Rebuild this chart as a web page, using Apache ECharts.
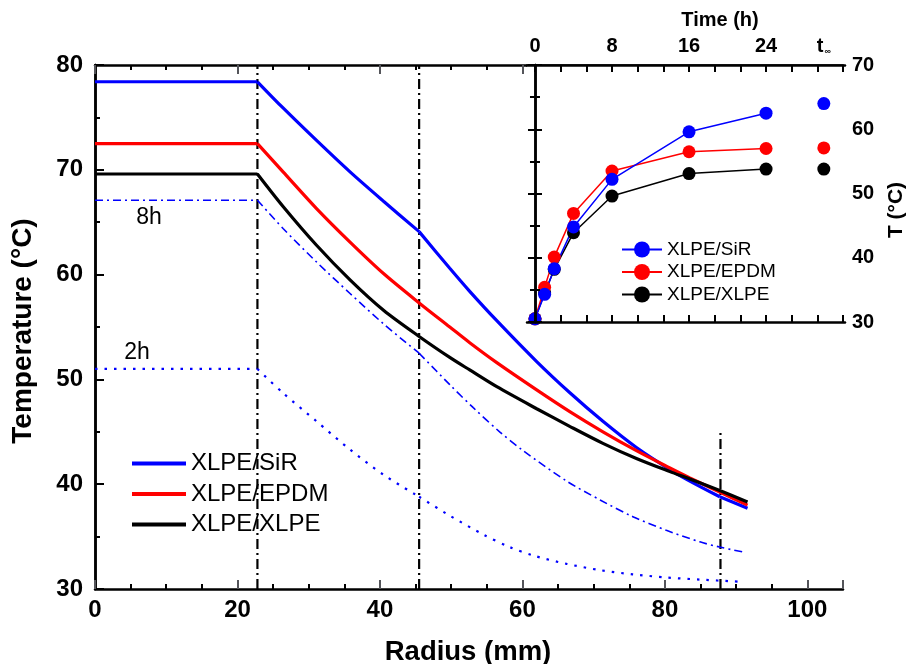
<!DOCTYPE html>
<html>
<head>
<meta charset="utf-8">
<script src="https://cdn.jsdelivr.net/npm/echarts@6/dist/echarts.min.js"></script>
<style>html,body{margin:0;padding:0;background:#fff}#c{width:909px;height:664px}</style>
</head>
<body>
<div id="c"></div>
<script>
// ---------- main plot data (radius in mm, temperature in °C) ----------
const radiusMain = [0, 22.8, 26.4, 31.1, 35.8, 40.5, 45.5, 49.8, 52.6, 56.4, 62.0, 66.7, 71.3, 76.0, 80.7, 83.5, 87.7, 91.6];
const tempSiR    = [78.4, 78.4, 75.9, 72.8, 69.8, 67.0, 64.1, 60.6, 58.4, 55.6, 51.7, 48.7, 46.0, 43.5, 41.4, 40.3, 38.8, 37.7];
const tempEPDM   = [72.5, 72.5, 69.8, 66.3, 63.1, 60.1, 57.3, 55.0, 53.5, 51.6, 49.0, 46.9, 45.0, 43.2, 41.55, 40.6, 39.25, 38.0];
const tempXLPE   = [69.6, 69.6, 66.5, 62.8, 59.5, 56.6, 54.1, 52.1, 50.9, 49.3, 47.2, 45.5, 43.9, 42.45, 41.2, 40.5, 39.4, 38.3];

const radius8h = [0, 22.8, 26.4, 31.1, 35.8, 40.5, 45.5, 49.8, 53.1, 56.8, 60.1, 66.2, 70.9, 75.5, 80.2, 84.9, 87.7, 91.2];
const temp8h   = [67.1, 67.1, 64.4, 61.2, 58.2, 55.3, 52.5, 49.5, 47.3, 45.0, 43.2, 40.3, 38.5, 36.9, 35.6, 34.5, 34.0, 33.5];

const radius2h = [0, 22.8, 26.4, 31.1, 35.8, 40.5, 45.5, 49.8, 54.5, 58.2, 61.5, 66.2, 70.9, 75.5, 80.2, 84.9, 90.5];
const temp2h   = [51.0, 51.0, 48.7, 46.0, 43.3, 40.9, 38.8, 37.0, 35.2, 34.0, 33.2, 32.4, 31.8, 31.4, 31.1, 30.9, 30.7];

const interfaceRadii = [22.8, 45.5, 87.8];
const interfaceTopT  = [80, 80, 45.1];

const seriesNames = ['XLPE/SiR', 'XLPE/EPDM', 'XLPE/XLPE'];

// ---------- inset data (time in h, temperature in °C) ----------
const insetHours   = [0, 1, 2, 4, 8, 16, 24];
const insetSiR     = [30.5, 34.3, 38.3, 44.8, 52.2, 59.6, 62.5];
const insetEPDM    = [30.5, 35.4, 40.1, 46.9, 53.5, 56.5, 57.0];
const insetXLPE    = [30.5, 34.5, 38.2, 43.9, 49.6, 53.1, 53.8];
const tInfPosition = 30;
const tInfSiR = 64.0, tInfEPDM = 57.1, tInfXLPE = 53.8;
const insetTickLabels = [0, 8, 16, 24, tInfPosition];

const zip = (xs, ys) => xs.map((x, i) => [x, ys[i]]);
// split a curve at given radii (interfaces) into pieces
const pieces = (xs, ys, breaks) => {
  const pts = zip(xs, ys);
  const out = [];
  let cur = [];
  pts.forEach(p => {
    cur.push(p);
    if (breaks.some(b => Math.abs(b - p[0]) < 0.35) && cur.length > 1) { out.push(cur); cur = [p]; }
  });
  if (cur.length > 1) out.push(cur);
  return out;
};
const FONT = "'Liberation Sans', Arial, sans-serif";
const BLUE = '#0000ff', RED = '#ff0000', BLACK = '#000000';

const insetTickVals = [];
for (let k = 0; k <= 12; k++) insetTickVals.push(k * 8 / 3);

const chart = echarts.init(document.getElementById('c'));

const mainLine = { lineStyle: { color: BLACK, width: 2.5 } };
const noLabel = { show: false };
const noSplit = { show: false };

const option = {
  animation: false,
  backgroundColor: '#fff',
  grid: [
    { left: 95, top: 65, width: 748, height: 524, show: false },
    { left: 527, top: 65, width: 318, height: 257, show: true, backgroundColor: '#fff', borderWidth: 0, z: 5 }
  ],
  xAxis: [
    { type: 'value', gridIndex: 0, position: 'bottom', min: 0, max: 105, interval: 5,
      axisLine: mainLine, splitLine: noSplit,
      axisTick: { inside: true, length: 5, lineStyle: { width: 2 } },
      axisLabel: { margin: 9, color: BLACK, fontSize: 24, fontWeight: 'bold', fontFamily: FONT,
        formatter: v => (Math.abs(v % 20) < 1e-6 ? String(v) : '') } },
    { type: 'value', gridIndex: 0, position: 'bottom', min: 0, max: 105, interval: 20,
      axisLine: { show: false }, splitLine: noSplit,
      axisTick: { inside: true, length: 9, lineStyle: { width: 2 } }, axisLabel: noLabel },
    { type: 'value', gridIndex: 0, position: 'top', min: 0, max: 105, interval: 5,
      axisLine: mainLine, splitLine: noSplit,
      axisTick: { inside: true, length: 5, lineStyle: { width: 2 } }, axisLabel: noLabel },
    { type: 'value', gridIndex: 0, position: 'top', min: 0, max: 105, interval: 20,
      axisLine: { show: false }, splitLine: noSplit,
      axisTick: { inside: true, length: 9, lineStyle: { width: 2 } }, axisLabel: noLabel },
    { type: 'value', gridIndex: 1, position: 'top', min: -0.83, max: 32.2, z: 8,
      axisLine: mainLine, splitLine: noSplit,
      axisTick: { inside: true, length: 7, lineStyle: { width: 2 }, customValues: insetTickVals },
      axisLabel: { margin: 9, color: BLACK, fontSize: 20, fontWeight: 'bold', fontFamily: FONT,
        customValues: insetTickLabels,
        formatter: v => (Math.abs(v - tInfPosition) < 1e-6 ? '{t|t}{s|∞}' : String(Math.round(v))),
        rich: {
          t: { fontSize: 20, fontWeight: 'bold', fontFamily: FONT, color: BLACK },
          s: { fontSize: 9, fontFamily: FONT, color: BLACK, verticalAlign: 'bottom', padding: [9, 0, 0, 1] }
        } } },
    { type: 'value', gridIndex: 1, position: 'bottom', min: -0.83, max: 32.2, z: 8,
      axisLine: mainLine, splitLine: noSplit,
      axisTick: { inside: true, length: 7, lineStyle: { width: 2 }, customValues: insetTickVals },
      axisLabel: noLabel }
  ],
  yAxis: [
    { type: 'value', gridIndex: 0, position: 'left', min: 30, max: 80, interval: 10,
      axisLine: mainLine, splitLine: noSplit,
      axisTick: { inside: true, length: 9, lineStyle: { width: 2 } },
      minorTick: { show: true, splitNumber: 2, length: 5, lineStyle: { width: 2, color: BLACK } },
      axisLabel: { margin: 12, color: BLACK, fontSize: 24, fontWeight: 'bold', fontFamily: FONT } },
    { type: 'value', gridIndex: 0, position: 'right', min: 30, max: 80, interval: 10,
      axisLine: mainLine, splitLine: noSplit, axisTick: { show: false }, axisLabel: noLabel },
    { type: 'value', gridIndex: 1, position: 'right', min: 30, max: 70, interval: 10, z: 8,
      axisLine: mainLine, splitLine: noSplit,
      axisTick: { inside: true, length: 7, lineStyle: { width: 2 } },
      minorTick: { show: true, splitNumber: 2, length: 5, lineStyle: { width: 2, color: BLACK } },
      axisLabel: { margin: 7, color: BLACK, fontSize: 20, fontWeight: 'bold', fontFamily: FONT } },
    { type: 'value', gridIndex: 1, position: 'left', min: 30, max: 70, interval: 10, z: 8,
      axisLine: mainLine, splitLine: noSplit,
      axisTick: { inside: true, length: 7, lineStyle: { width: 2 } },
      minorTick: { show: true, splitNumber: 2, length: 5, lineStyle: { width: 2, color: BLACK } },
      axisLabel: noLabel }
  ],
  legend: [
    { data: seriesNames, orient: 'vertical', left: 127, top: 446.5, itemWidth: 54, itemHeight: 4, icon: 'rect',
      itemGap: 6.5, selectedMode: false, z: 10,
      textStyle: { fontSize: 24, color: BLACK, fontFamily: FONT, padding: [0, 0, 0, 0] } },
    { data: seriesNames.map(n => 'i:' + n), orient: 'vertical', left: 616, top: 235, itemWidth: 40, itemHeight: 20,
      itemGap: 3.5, selectedMode: false, z: 10, formatter: n => n.slice(2),
      textStyle: { fontSize: 19, color: BLACK, fontFamily: FONT, padding: [0, 0, 0, 0] } }
  ],
  series: []
};

// interface lines
interfaceRadii.forEach((r, i) => {
  option.series.push({ type: 'line', name: 'interface' + i, xAxisIndex: 0, yAxisIndex: 0, symbol: 'none', z: 2,
    data: [[r, 30], [r, interfaceTopT[i]]],
    lineStyle: { color: BLACK, width: 2.2, type: [10, 4, 2, 4] } });
});
const addCurve = (name, xs, ys, breaks, lineStyle) => {
  pieces(xs, ys, breaks).forEach(seg => {
    const flat = seg.length === 2 && seg[0][1] === seg[1][1];
    option.series.push({ type: 'line', name, xAxisIndex: 0, yAxisIndex: 0, symbol: 'none', z: 3,
      smooth: flat ? false : 0.3,
      data: seg, itemStyle: { color: lineStyle.color }, lineStyle });
  });
};
addCurve('8h', radius8h, temp8h, [22.8, 45.5], { color: BLUE, width: 1.6, type: [8, 4, 2, 4] });
addCurve('2h', radius2h, temp2h, [22.8, 45.5], { color: BLUE, width: 2.2, type: [2.5, 7] });
addCurve(seriesNames[0], radiusMain, tempSiR, [22.8, 45.5, 87.7], { color: BLUE, width: 3.2 });
addCurve(seriesNames[1], radiusMain, tempEPDM, [22.8], { color: RED, width: 3.2 });
addCurve(seriesNames[2], radiusMain, tempXLPE, [22.8], { color: BLACK, width: 3.2 });

// inset: draw black, red, blue (blue on top)
[[insetXLPE, BLACK, 2, tInfXLPE], [insetEPDM, RED, 1, tInfEPDM], [insetSiR, BLUE, 0, tInfSiR]].forEach(([t, c, idx, inf]) => {
  option.series.push({ type: 'line', name: 'i:' + seriesNames[idx], xAxisIndex: 4, yAxisIndex: 2, z: 6,
    symbol: 'circle', symbolSize: 13, showSymbol: true, clip: false,
    data: zip(insetHours, t), itemStyle: { color: c, opacity: 1 }, lineStyle: { color: c, width: 1.5 } });
  option.series.push({ type: 'scatter', name: 'inf' + idx, xAxisIndex: 4, yAxisIndex: 2, z: 6,
    symbol: 'circle', symbolSize: 13, data: [[tInfPosition, inf]], itemStyle: { color: c, opacity: 1 } });
});

option.graphic = [
  { type: 'text', x: 23, y: 331, rotation: Math.PI / 2, z: 20,
    style: { text: 'Temperature (°C)', fontSize: 28, fontWeight: 'bold', fontFamily: FONT, fill: BLACK, align: 'center', verticalAlign: 'middle' } },
  { type: 'text', x: 468, y: 652, z: 20,
    style: { text: 'Radius (mm)', fontSize: 27.5, fontWeight: 'bold', fontFamily: FONT, fill: BLACK, align: 'center', verticalAlign: 'middle' } },
  { type: 'text', x: 720, y: 20, z: 20,
    style: { text: 'Time (h)', fontSize: 20, fontWeight: 'bold', fontFamily: FONT, fill: BLACK, align: 'center', verticalAlign: 'middle' } },
  { type: 'text', x: 896, y: 210, rotation: Math.PI / 2, z: 20,
    style: { text: 'T (°C)', fontSize: 21, fontWeight: 'bold', fontFamily: FONT, fill: BLACK, align: 'center', verticalAlign: 'middle' } },
  { type: 'text', x: 149, y: 218, z: 20,
    style: { text: '8h', fontSize: 23, fontFamily: FONT, fill: BLACK, align: 'center', verticalAlign: 'middle' } },
  { type: 'text', x: 137, y: 353, z: 20,
    style: { text: '2h', fontSize: 23, fontFamily: FONT, fill: BLACK, align: 'center', verticalAlign: 'middle' } }
];

chart.setOption(option);
</script>
</body>
</html>
